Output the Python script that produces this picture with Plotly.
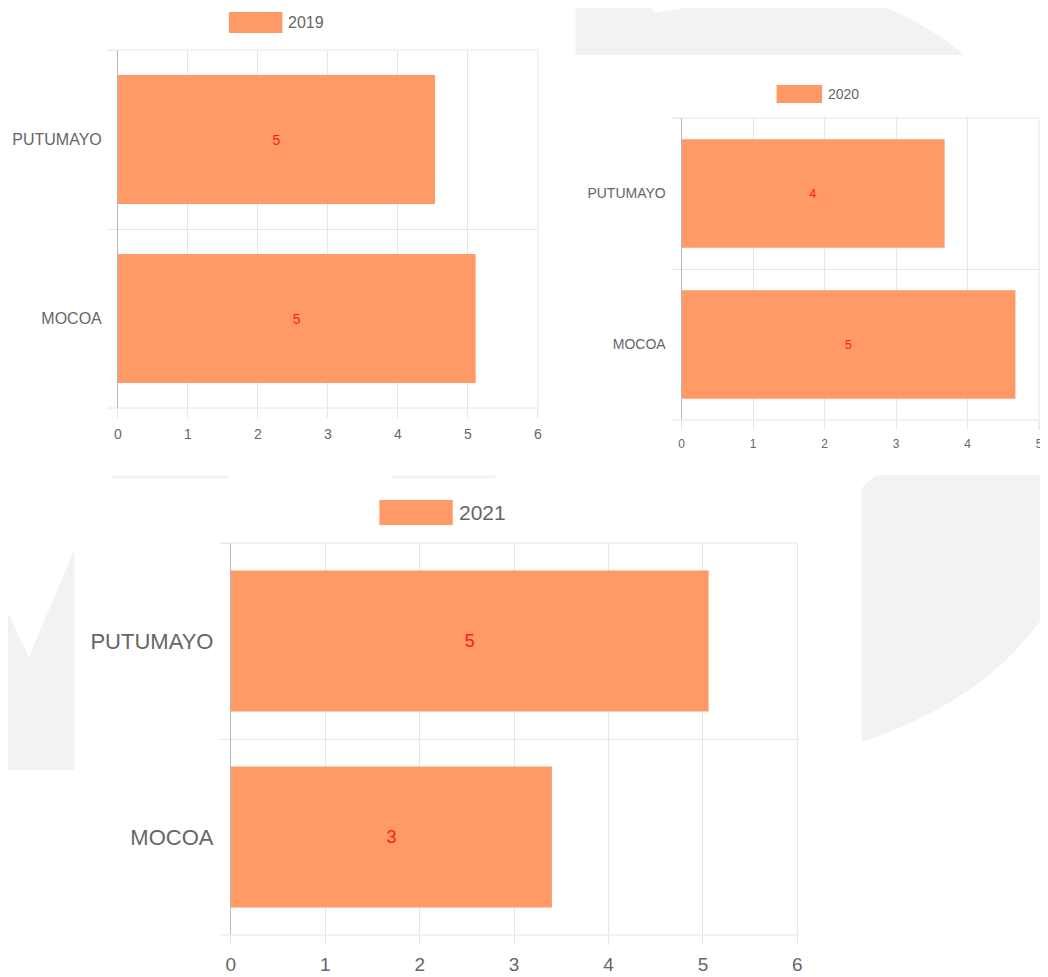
import plotly.graph_objects as go

# The page body has an 8px margin, so the figure is drawn 8px in from the window corner.
OFF = 8
WIN_W, WIN_H = 1048, 977
W, H = WIN_W - OFF, WIN_H - OFF

categories = ["PUTUMAYO", "MOCOA"]
values_2019 = [4.53, 5.11]
values_2020 = [3.68, 4.67]
values_2021 = [5.06, 3.40]
years = ["2019", "2020", "2021"]
x_ticks_2019 = [0, 1, 2, 3, 4, 5, 6]
x_ticks_2020 = [0, 1, 2, 3, 4, 5]
x_ticks_2021 = [0, 1, 2, 3, 4, 5, 6]

BAR = "#ff9966"
GRID = "#e6e6e6"
AXIS = "#b8b8b8"
TXT = "#666666"
FONT = "Liberation Sans, Arial, sans-serif"


def px(x):
    return (x - OFF) / W


def py(y):
    return 1 - (y - OFF) / H


def pth(points, close=True):
    s = ""
    for i, p in enumerate(points):
        if p[0] == "Q":
            s += f" Q {px(p[1])},{py(p[2])} {px(p[3])},{py(p[4])}"
        else:
            s += (" M " if i == 0 else " L ") + f"{px(p[0])},{py(p[1])}"
    return s + (" Z" if close else "")


fig = go.Figure()

panels = [
    # name, values, xaxis, yaxis, xrange, ticks, x0,x1,y0,y1, catfont, tickfont, barfont, legend box, legend font
    (years[0], values_2019, "x", "y", [0, 6], x_ticks_2019, 114, 538, 50, 408, 16, 14, 14, (226, 12, 280, 33), 16),
    (years[1], values_2020, "x2", "y2", [0, 5], x_ticks_2020, 683, 1044, 118, 420, 14, 12, 12, (779, 85, 825, 103), 14),
    (years[2], values_2021, "x3", "y3", [0, 6], x_ticks_2021, 228, 800, 543, 935, 22, 19, 18, (378, 500, 452, 525), 21),
]

shapes = []
annotations = []
layout_axes = {}
XTL = 9

for i, (name, vals, xa, ya, xr, ticks, X0, X1, Y0, Y1, cf, tf, bf, lb, lf) in enumerate(panels):
    fig.add_trace(go.Bar(
        y=categories, x=vals, orientation="h", name=name,
        xaxis=xa, yaxis=ya, width=0.72,
        marker=dict(color=BAR, line=dict(width=0)),
        texttemplate="%{x:.0f}", textposition="inside", insidetextanchor="middle",
        textangle=0, constraintext="none",
        textfont=dict(color="#ff1a1a", size=bf, family=FONT),
        showlegend=False, hoverinfo="x+y",
    ))
    xkey = "xaxis" if i == 0 else f"xaxis{i+1}"
    ykey = "yaxis" if i == 0 else f"yaxis{i+1}"
    layout_axes[xkey] = dict(
        domain=[px(X0), px(X1)], range=xr, anchor=ya, tickvals=ticks,
        showgrid=True, gridcolor=GRID, gridwidth=1, zeroline=False,
        showline=False, ticks="outside", ticklen=XTL, tickcolor=GRID,
        ticklabelstandoff=4 if i < 2 else 3,
        tickfont=dict(size=tf, color=TXT, family=FONT), fixedrange=True,
    )
    layout_axes[ykey] = dict(
        domain=[py(Y1), py(Y0)], anchor=xa, type="category",
        categoryorder="array", categoryarray=categories, autorange="reversed",
        tickson="boundaries", showgrid=True, gridcolor=GRID, gridwidth=1,
        ticks="outside", ticklen=10, tickcolor=GRID, ticklabelstandoff=12,
        showline=True, linecolor=AXIS, linewidth=1, zeroline=False,
        tickfont=dict(size=cf, color=TXT, family=FONT), fixedrange=True,
    )
    # edge grid lines that plotly omits at the range limits
    for yy in (Y0, Y1):
        shapes.append(dict(type="line", xref="paper", yref="paper",
                           x0=px(X0 - 10), x1=px(X1), y0=py(yy), y1=py(yy),
                           line=dict(color=GRID, width=1)))
    shapes.append(dict(type="line", xref="paper", yref="paper",
                       x0=px(X1), x1=px(X1), y0=py(Y0), y1=py(Y1 + XTL),
                       line=dict(color=GRID, width=1)))
    # legend box and label
    shapes.append(dict(type="rect", xref="paper", yref="paper",
                       x0=px(lb[0]), x1=px(lb[2]), y0=py(lb[3]), y1=py(lb[1]),
                       fillcolor=BAR, line=dict(width=0)))
    annotations.append(dict(xref="paper", yref="paper", x=px(lb[2] + 4), y=py((lb[1] + lb[3]) / 2),
                            text=name, showarrow=False, xanchor="left", yanchor="middle",
                            font=dict(size=lf, color=TXT, family=FONT)))

BG = "#f2f2f2"
# watermark-like background shapes
shapes.append(dict(type="path", xref="paper", yref="paper", layer="below",
                   path=pth([(576, 0), (645, 0), (657, 13), ("Q", 760, -6, 870, 0), ("Q", 930, 22, 968, 55), (576, 55)]),
                   fillcolor=BG, line=dict(width=0)))
shapes.append(dict(type="path", xref="paper", yref="paper", layer="below",
                   path=pth([(0, 607), (24, 657), (70, 550), (70, 770), (0, 770)]),
                   fillcolor=BG, line=dict(width=0)))
shapes.append(dict(type="path", xref="paper", yref="paper", layer="below",
                   path=pth([(865, 488), (879, 475), (1048, 475), (1048, 617), ("Q", 990, 700, 865, 742)]),
                   fillcolor=BG, line=dict(width=0)))
for a, b in [(108, 225), (390, 495)]:
    shapes.append(dict(type="line", xref="paper", yref="paper", layer="below",
                       x0=px(a), x1=px(b), y0=py(477), y1=py(477),
                       line=dict(color="#f3f3f3", width=3)))

fig.update_layout(
    width=W, height=H, autosize=False,
    margin=dict(l=0, r=0, t=0, b=0),
    paper_bgcolor="white", plot_bgcolor="rgba(0,0,0,0)",
    showlegend=False,
    shapes=shapes, annotations=annotations,
    font=dict(family=FONT, color=TXT),
    **layout_axes,
)

fig.write_html("out.html")
